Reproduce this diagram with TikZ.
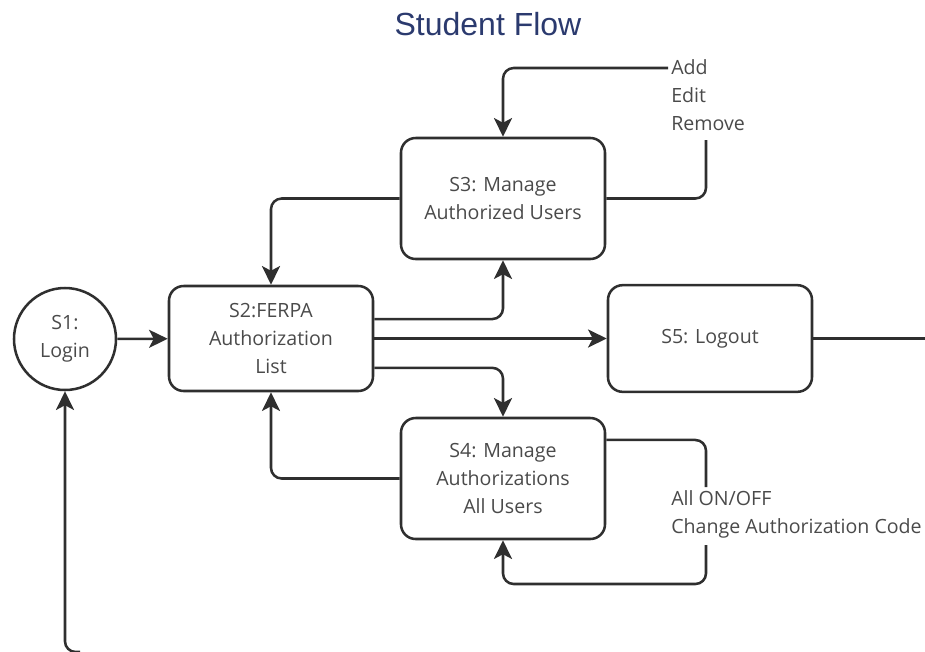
\documentclass[tikz,border=0pt]{standalone}
\usepackage{fontspec}
\setmainfont{Open Sans}
\newfontfamily\titlefont{Liberation Sans}
\usetikzlibrary{arrows.meta}
\definecolor{titlecol}{HTML}{2B3A6E}
\definecolor{linecol}{HTML}{2F2F2F}
\definecolor{textcol}{HTML}{4A4A4A}
\begin{document}
\begin{tikzpicture}[x=0.75pt,y=-0.75pt,
  line width=1.9pt, draw=linecol,
  box/.style={draw=linecol, rounded corners=11pt, minimum width=153pt, align=center,
    text=textcol, font=\fontsize{14.7}{21}\selectfont, inner sep=0pt},
  circ/.style={draw=linecol, circle, minimum size=76.5pt, align=center,
    text=textcol, font=\fontsize{14.7}{21}\selectfont, inner sep=0pt},
  lbl/.style={align=left, text=textcol, font=\fontsize{14.7}{21}\selectfont, inner sep=0pt},
  arr/.style={-{Stealth[length=14pt,width=13.5pt,inset=3.5pt]}, rounded corners=8pt, draw=linecol},
  ln/.style={rounded corners=8pt, draw=linecol}]
\useasboundingbox (0,0) rectangle (925,651);
\node[font=\titlefont\fontsize{24}{28}\selectfont, text=titlecol] (title) at (488,24) {Student Flow};
\node[circ] (s1) at (65,339) {S1:\\Login};
\node[box, minimum height=78.75pt] (s2) at (271,338.5) {S2:FERPA\\Authorization\\List};
\node[box, minimum height=90.75pt] (s3) at (503,198.5) {S3: Manage\\Authorized Users};
\node[box, minimum height=90.75pt] (s4) at (503,478.5) {S4: Manage\\Authorizations\\All Users};
\node[box, minimum height=80pt] (s5) at (710,338.5) {S5: Logout};
\node[lbl, anchor=west] (l3) at (670,95) {Add\\Edit\\Remove};
\node[lbl, anchor=west] (l4) at (670,514.5) {All ON/OFF\\Change Authorization Code};
\coordinate (c3a) at (706,140);
\coordinate (c3b) at (668,68);
\coordinate (c4a) at (706,487);
\coordinate (c4b) at (706,545);
\coordinate (c4c) at (706,584);
\coordinate (rend) at (930,338.5);
\coordinate (bot) at (80,652);
\draw[arr] (s1) -- (s2);
\draw[arr] (s2.east) -- (s5.west);
\draw[ln] (s5.east) -- (rend);
\draw[arr] ([yshift=14.6pt]s2.east) -| (s3.south);
\draw[arr] ([yshift=-22pt]s2.east) -| (s4.north);
\draw[arr] (s3.west) -| (s2.north);
\draw[arr] (s4.west) -| (s2.south);
\draw[ln] (s3.east) -| (c3a);
\draw[arr] (c3b) -| (s3.north);
\draw[ln] ([yshift=28.9pt]s4.east) -| (c4a);
\draw[arr] (c4b) -- (c4c) -| (s4.south);
\draw[arr] (bot) -| (s1.south);
\end{tikzpicture}
\end{document}
